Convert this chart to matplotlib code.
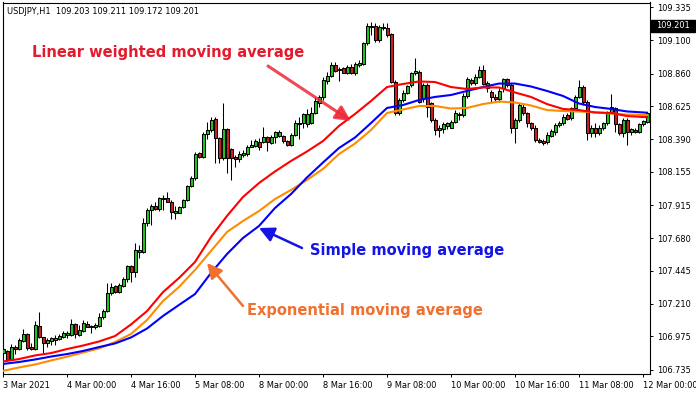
import matplotlib
matplotlib.use('Agg')
import matplotlib.pyplot as plt
import matplotlib.transforms as mtransforms
from matplotlib.patches import Rectangle

# ---------------- data (USDJPY H1 candles) ----------------
open_ = [106.856, 106.870, 106.813, 106.899, 106.885, 106.942, 106.992, 106.899, 106.885, 107.050,
         106.971, 106.928, 106.942, 106.949, 106.956, 106.971, 106.985, 106.985, 107.064, 106.985,
         107.014, 107.064, 107.050, 107.042, 107.050, 107.114, 107.157, 107.286, 107.336, 107.293,
         107.336, 107.387, 107.480, 107.437, 107.580, 107.580, 107.788, 107.881, 107.910, 107.889,
         107.967, 107.967, 107.939, 107.860, 107.860, 107.903, 107.953, 108.054, 108.111, 108.290,
         108.261, 108.426, 108.455, 108.534, 108.398, 108.254, 108.462, 108.319, 108.261, 108.247,
         108.276, 108.283, 108.333, 108.340, 108.369, 108.369, 108.405, 108.362, 108.405, 108.412,
         108.412, 108.376, 108.347, 108.419, 108.505, 108.505, 108.498, 108.505, 108.577, 108.649,
         108.692, 108.806, 108.842, 108.921, 108.885, 108.899, 108.864, 108.907, 108.864, 108.921,
         108.928, 109.079, 109.193, 109.201, 109.100, 109.186, 109.186, 109.143, 108.799, 108.577,
         108.670, 108.720, 108.778, 108.864, 108.871, 108.684, 108.778, 108.649, 108.527, 108.455,
         108.462, 108.484, 108.469, 108.512, 108.562, 108.562, 108.699, 108.813, 108.792, 108.835,
         108.885, 108.756, 108.727, 108.692, 108.677, 108.756, 108.821, 108.778, 108.469, 108.527,
         108.620, 108.577, 108.505, 108.469, 108.383, 108.376, 108.369, 108.412, 108.441, 108.491,
         108.505, 108.562, 108.541, 108.613, 108.692, 108.763, 108.656, 108.433, 108.469, 108.433,
         108.469, 108.505, 108.584, 108.613, 108.498, 108.433, 108.527, 108.441, 108.455, 108.441,
         108.498, 108.512]
high = [106.892, 106.878, 106.921, 106.913, 106.964, 107.028, 107.000, 106.928, 107.085, 107.150,
        106.971, 106.964, 106.971, 106.985, 106.992, 107.014, 107.014, 107.100, 107.071, 107.057,
        107.093, 107.085, 107.057, 107.071, 107.143, 107.171, 107.358, 107.358, 107.344, 107.358,
        107.401, 107.487, 107.487, 107.645, 107.630, 107.824, 107.896, 107.924, 107.939, 107.975,
        107.989, 108.010, 107.953, 107.910, 107.910, 107.960, 108.061, 108.125, 108.297, 108.297,
        108.441, 108.512, 108.548, 108.548, 108.405, 108.649, 108.469, 108.326, 108.276, 108.304,
        108.312, 108.347, 108.383, 108.390, 108.398, 108.476, 108.412, 108.419, 108.448, 108.455,
        108.419, 108.383, 108.433, 108.527, 108.548, 108.577, 108.606, 108.620, 108.692, 108.706,
        108.835, 108.871, 108.942, 108.942, 108.907, 108.907, 108.921, 108.928, 108.942, 108.957,
        109.086, 109.222, 109.229, 109.222, 109.208, 109.222, 109.222, 109.150, 108.813, 108.684,
        108.742, 108.778, 108.871, 108.971, 108.885, 108.792, 108.792, 108.656, 108.541, 108.491,
        108.512, 108.512, 108.527, 108.598, 108.584, 108.720, 108.835, 108.828, 108.856, 108.914,
        108.921, 108.806, 108.742, 108.713, 108.756, 108.828, 108.828, 108.792, 108.541, 108.649,
        108.641, 108.584, 108.512, 108.491, 108.398, 108.390, 108.441, 108.462, 108.505, 108.519,
        108.570, 108.577, 108.620, 108.706, 108.813, 108.778, 108.670, 108.491, 108.505, 108.491,
        108.512, 108.591, 108.713, 108.620, 108.505, 108.541, 108.541, 108.469, 108.469, 108.505,
        108.527, 108.584]
low = [106.849, 106.799, 106.806, 106.849, 106.878, 106.935, 106.878, 106.878, 106.878, 106.964,
       106.856, 106.899, 106.913, 106.913, 106.949, 106.964, 106.964, 106.978, 106.964, 106.978,
       107.007, 107.042, 107.000, 107.028, 107.042, 107.100, 107.150, 107.272, 107.286, 107.286,
       107.329, 107.365, 107.365, 107.401, 107.537, 107.573, 107.767, 107.774, 107.881, 107.874,
       107.881, 107.939, 107.817, 107.817, 107.860, 107.896, 107.946, 108.046, 108.096, 108.254,
       108.254, 108.390, 108.441, 108.219, 108.219, 108.240, 108.147, 108.096, 108.190, 108.226,
       108.261, 108.269, 108.333, 108.333, 108.312, 108.362, 108.304, 108.355, 108.362, 108.405,
       108.362, 108.340, 108.340, 108.412, 108.390, 108.469, 108.476, 108.498, 108.570, 108.620,
       108.670, 108.785, 108.835, 108.871, 108.806, 108.864, 108.856, 108.856, 108.849, 108.907,
       108.921, 109.064, 109.136, 109.086, 109.086, 109.172, 109.122, 108.792, 108.562, 108.562,
       108.656, 108.713, 108.763, 108.849, 108.649, 108.656, 108.548, 108.512, 108.419, 108.405,
       108.433, 108.462, 108.469, 108.505, 108.527, 108.548, 108.684, 108.778, 108.778, 108.828,
       108.778, 108.727, 108.656, 108.663, 108.656, 108.727, 108.763, 108.433, 108.362, 108.512,
       108.562, 108.476, 108.455, 108.369, 108.362, 108.347, 108.355, 108.405, 108.419, 108.476,
       108.491, 108.527, 108.527, 108.598, 108.684, 108.634, 108.383, 108.405, 108.405, 108.419,
       108.455, 108.491, 108.577, 108.441, 108.419, 108.405, 108.347, 108.419, 108.433, 108.433,
       108.484, 108.505]
close = [106.885, 106.806, 106.899, 106.885, 106.949, 106.992, 106.892, 106.885, 107.057, 106.971,
         106.928, 106.949, 106.964, 106.964, 106.978, 107.000, 107.000, 107.064, 106.992, 107.021,
         107.071, 107.042, 107.046, 107.057, 107.114, 107.157, 107.286, 107.329, 107.293, 107.344,
         107.387, 107.480, 107.437, 107.595, 107.595, 107.788, 107.881, 107.910, 107.889, 107.967,
         107.960, 107.939, 107.867, 107.874, 107.903, 107.953, 108.054, 108.111, 108.283, 108.261,
         108.426, 108.455, 108.527, 108.398, 108.254, 108.462, 108.254, 108.254, 108.247, 108.283,
         108.290, 108.333, 108.347, 108.376, 108.333, 108.405, 108.369, 108.405, 108.441, 108.441,
         108.376, 108.347, 108.419, 108.505, 108.498, 108.570, 108.570, 108.577, 108.663, 108.692,
         108.813, 108.842, 108.921, 108.878, 108.892, 108.864, 108.907, 108.864, 108.928, 108.935,
         109.079, 109.201, 109.201, 109.100, 109.193, 109.193, 109.136, 108.799, 108.577, 108.670,
         108.720, 108.770, 108.864, 108.878, 108.656, 108.778, 108.620, 108.527, 108.455, 108.469,
         108.498, 108.505, 108.512, 108.577, 108.570, 108.699, 108.821, 108.792, 108.835, 108.885,
         108.785, 108.792, 108.692, 108.677, 108.735, 108.821, 108.778, 108.469, 108.527, 108.634,
         108.577, 108.505, 108.469, 108.383, 108.369, 108.362, 108.419, 108.448, 108.491, 108.505,
         108.548, 108.534, 108.613, 108.692, 108.763, 108.656, 108.433, 108.469, 108.433, 108.469,
         108.505, 108.584, 108.620, 108.498, 108.433, 108.527, 108.441, 108.462, 108.441, 108.498,
         108.519, 108.577]

# moving averages sampled every 4 bars (bar index)
ma_index = [0, 4, 8, 12, 16, 20, 24, 28, 32, 36, 40, 44, 48, 52, 56, 60, 64, 68, 72, 76, 80,
            84, 88, 92, 96, 100, 104, 108, 112, 116, 120, 124, 128, 132, 136, 140, 144, 148,
            152, 156, 160, 161]
lwma = [106.796, 106.813, 106.839, 106.856, 106.885, 106.910, 106.939, 106.978, 107.061, 107.157,
        107.293, 107.394, 107.509, 107.688, 107.839, 107.975, 108.075, 108.158, 108.233, 108.301,
        108.376, 108.484, 108.570, 108.663, 108.763, 108.785, 108.803, 108.799, 108.763, 108.749,
        108.760, 108.760, 108.724, 108.692, 108.641, 108.606, 108.598, 108.581, 108.577, 108.555,
        108.548, 108.548]
sma = [106.778, 106.792, 106.810, 106.831, 106.849, 106.871, 106.899, 106.925, 106.968, 107.032,
       107.122, 107.201, 107.279, 107.430, 107.566, 107.681, 107.767, 107.896, 107.996, 108.115,
       108.222, 108.326, 108.401, 108.505, 108.613, 108.634, 108.670, 108.692, 108.706, 108.735,
       108.763, 108.788, 108.788, 108.767, 108.735, 108.699, 108.645, 108.620, 108.606, 108.588,
       108.581, 108.579]
ema = [106.728, 106.753, 106.774, 106.803, 106.830, 106.860, 106.889, 106.935, 106.993, 107.093,
       107.229, 107.330, 107.452, 107.588, 107.724, 107.803, 107.874, 107.960, 108.025, 108.097,
       108.176, 108.283, 108.358, 108.455, 108.577, 108.602, 108.627, 108.627, 108.609, 108.613,
       108.641, 108.659, 108.652, 108.631, 108.598, 108.591, 108.588, 108.581, 108.573, 108.566,
       108.563, 108.563]

xtick_pos = [0, 16, 32, 48, 64, 80, 96, 112, 128, 144, 160]
xtick_labels = ['3 Mar 2021', '4 Mar 00:00', '4 Mar 16:00', '5 Mar 08:00', '8 Mar 00:00',
                '8 Mar 16:00', '9 Mar 08:00', '10 Mar 00:00', '10 Mar 16:00', '11 Mar 08:00',
                '12 Mar 00:00']
ytick_vals = [109.335, 109.100, 108.860, 108.625, 108.390, 108.155, 107.915, 107.680,
              107.445, 107.210, 106.975, 106.735]
header = 'USDJPY,H1  109.203 109.211 109.172 109.201'
bid_price = 109.201

# ---------------- figure ----------------
W, H = 696, 394
FS = 5.95
fig = plt.figure(figsize=(W / 100, H / 100), dpi=100)
fig.patch.set_facecolor('white')
ax = fig.add_axes([2.5 / W, 1 - 374 / H, (650 - 2.5) / W, (374 - 2.5) / H])
ax.set_facecolor('white')
ax.set_xlim(-0.125, 161.75)
ax.set_ylim(106.706, 109.369)

GREEN = '#1ec81e'
RED = '#d01e1e'
body_w = 0.75
for k in range(len(open_)):
    o, h, l, c = open_[k], high[k], low[k], close[k]
    ax.vlines(k, l, h, color='black', lw=0.75, zorder=2)
    bottom = min(o, c)
    height = abs(c - o)
    ax.add_patch(Rectangle((k - body_w / 2, bottom), body_w, height,
                           facecolor=GREEN if c >= o else RED,
                           edgecolor='black', lw=0.75, zorder=3))

ax.plot(ma_index, ema, color='#ff8c00', lw=1.5, zorder=4)
ax.plot(ma_index, sma, color='#0000ff', lw=1.5, zorder=5)
ax.plot(ma_index, lwma, color='#ff0000', lw=1.5, zorder=6)

for s in ax.spines.values():
    s.set_linewidth(0.8)
    s.set_color('black')

ax.yaxis.tick_right()
ax.set_yticks(ytick_vals)
ax.set_yticklabels(['%.3f' % v for v in ytick_vals])
ax.set_xticks(xtick_pos)
ax.set_xticklabels(xtick_labels, ha='left')
ax.tick_params(axis='both', direction='out', length=2.5, width=0.7, colors='black',
               labelsize=FS, pad=2.5)
ax.tick_params(axis='x', pad=2.5)

# bid price label
trans = mtransforms.blended_transform_factory(ax.transAxes, ax.transData)
ax.add_patch(Rectangle((1.0015, bid_price - 0.043), 44 / 647.5, 0.086, transform=trans,
                       facecolor='black', edgecolor='black', clip_on=False, zorder=10))
ax.text(1.0 + 22.5 / 647.5, bid_price, '%.3f' % bid_price, transform=trans, color='white',
        fontsize=FS, ha='center', va='center', clip_on=False, zorder=11)

fig.text(7 / W, 1 - 11 / H, header, fontsize=FS, va='center', ha='left', color='black')

def fp(x, y):
    return (x, H - y)

# annotations
fig.text(32 / W, 1 - 57 / H, 'Linear weighted moving average', color='#e41b2e',
         fontsize=10.5, fontweight='bold', ha='left', va='baseline')
fig.text(310 / W, 1 - 255 / H, 'Simple moving average', color='#1414e6',
         fontsize=10.5, fontweight='bold', ha='left', va='baseline')
fig.text(247 / W, 1 - 315 / H, 'Exponential moving average', color='#f07030',
         fontsize=10.5, fontweight='bold', ha='left', va='baseline')

def arrow(tail, tip, color, lw, alpha=1.0):
    ax.annotate('', xy=fp(*tip), xytext=fp(*tail), xycoords='figure pixels',
                textcoords='figure pixels',
                arrowprops=dict(arrowstyle='-|>,head_length=0.9,head_width=0.45',
                                color=color, lw=lw, mutation_scale=10,
                                shrinkA=0, shrinkB=0, alpha=alpha),
                annotation_clip=False, zorder=12)

arrow((268, 66), (351, 121), '#ee2838', 2.2, 0.85)
arrow((302, 248), (259, 228), '#1414e6', 1.8)
arrow((243, 306), (207, 263), '#f07030', 1.8)

fig.savefig('out.png', dpi=100)
